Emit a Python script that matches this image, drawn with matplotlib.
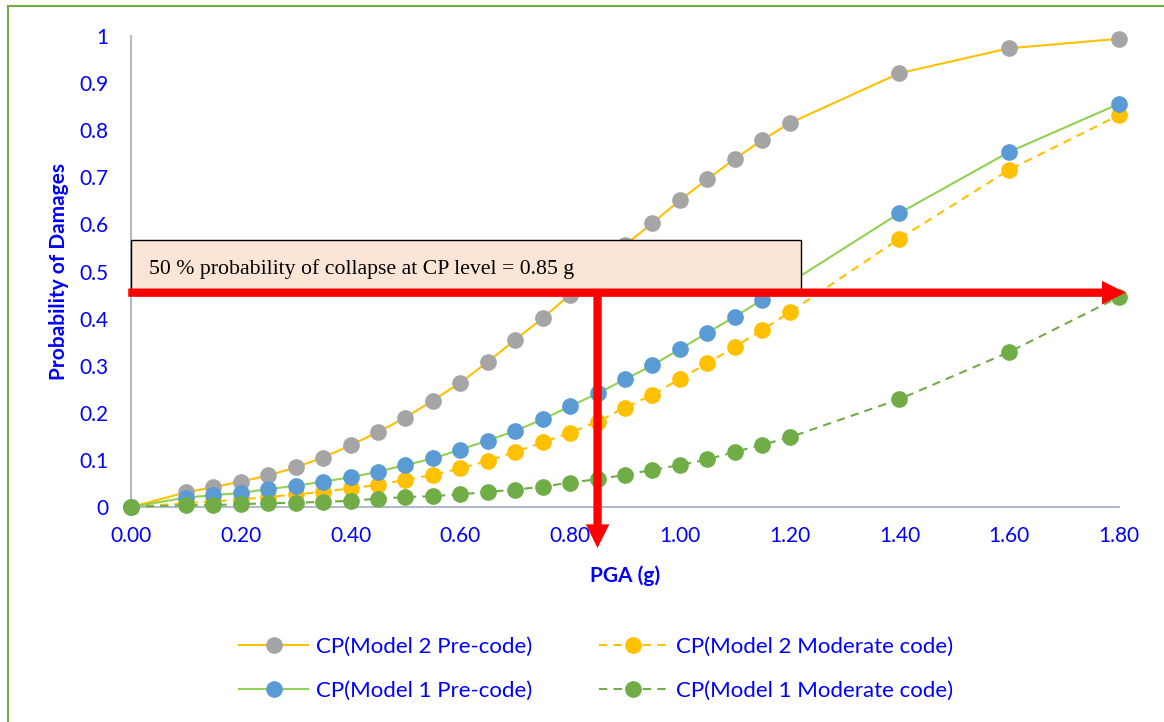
import matplotlib
matplotlib.use("Agg")
import matplotlib.pyplot as plt
from matplotlib.patches import Rectangle
from matplotlib.lines import Line2D

# data
pga = [0, 0.1, 0.15, 0.2, 0.25, 0.3, 0.35, 0.4, 0.45, 0.5, 0.55, 0.6, 0.65,
       0.7, 0.75, 0.8, 0.85, 0.9, 0.95, 1.0, 1.05, 1.1, 1.15, 1.2, 1.4, 1.6, 1.8]

m2_pre = [0, 0.031, 0.042, 0.054, 0.067, 0.084, 0.105, 0.131, 0.159, 0.190,
          0.226, 0.264, 0.308, 0.355, 0.401, 0.451, 0.505, 0.556, 0.603, 0.651,
          0.696, 0.739, 0.779, 0.815, 0.921, 0.974, 0.994]
m2_mod = [0, 0.008, 0.012, 0.016, 0.021, 0.027, 0.032, 0.040, 0.047, 0.058,
          0.068, 0.082, 0.098, 0.117, 0.137, 0.158, 0.181, 0.211, 0.238, 0.272,
          0.305, 0.340, 0.376, 0.413, 0.570, 0.716, 0.832]
m1_pre = [0, 0.020, 0.025, 0.030, 0.038, 0.045, 0.054, 0.063, 0.075, 0.089,
          0.103, 0.122, 0.141, 0.162, 0.186, 0.214, 0.241, 0.271, 0.301, 0.335,
          0.370, 0.404, 0.440, 0.476, 0.624, 0.754, 0.856]
m1_mod = [0, 0.004, 0.004, 0.006, 0.008, 0.009, 0.011, 0.013, 0.018, 0.021,
          0.023, 0.027, 0.032, 0.037, 0.043, 0.052, 0.059, 0.068, 0.079, 0.089,
          0.101, 0.117, 0.132, 0.148, 0.229, 0.329, 0.446]

labels = ["CP(Model 2 Pre-code)", "CP(Model 2 Moderate code)",
          "CP(Model 1 Pre-code)", "CP(Model 1 Moderate code)"]

xticks = [0, 0.2, 0.4, 0.6, 0.8, 1.0, 1.2, 1.4, 1.6, 1.8]
yticks = [0, 0.1, 0.2, 0.3, 0.4, 0.5, 0.6, 0.7, 0.8, 0.9, 1.0]
ytick_labels = ["0", "0.1", "0.2", "0.3", "0.4", "0.5", "0.6", "0.7", "0.8", "0.9", "1"]

collapse_pga = 0.85
collapse_prob = 0.455
note = "50 % probability of collapse at CP level = 0.85 g"

plt.rcParams['font.family'] = ['Lato', 'DejaVu Sans']
blue = '#0000FF'

fig = plt.figure(figsize=(11.64, 7.22), dpi=100)
ax = fig.add_axes([131 / 1164, 1 - 507 / 722, (1119 - 131) / 1164, (507 - 36) / 722])

# series
ms = 11
common = dict(lw=1.5, marker='o', ms=ms, zorder=2, clip_on=False)
h1, = ax.plot(pga, m2_pre, color='#FFC000', mfc='#A5A5A5', mec='#A5A5A5',
              label=labels[0], **common)
h2, = ax.plot(pga, m2_mod, color='#FFC000', ls=(0, (4, 3)), mfc='#FFC000', mec='#FFC000',
              label=labels[1], **common)
h3, = ax.plot(pga, m1_pre, color='#92D050', mfc='#5B9BD5', mec='#5B9BD5',
              label=labels[2], **common)
h4, = ax.plot(pga, m1_mod, color='#70AD47', ls=(0, (4, 3)), mfc='#70AD47', mec='#70AD47',
              label=labels[3], **common)

ax.set_xlim(0, 1.8)
ax.set_ylim(0, 1)
ax.set_xticks(xticks)
ax.set_xticklabels(["{:.2f}".format(t) for t in xticks])
ax.set_yticks(yticks)
ax.set_yticklabels(ytick_labels)
ax.tick_params(length=0, labelsize=15, labelcolor=blue)
ax.tick_params(axis='y', pad=16)
ax.tick_params(axis='x', pad=14)

for s in ['top', 'right']:
    ax.spines[s].set_visible(False)
for s in ['left', 'bottom']:
    ax.spines[s].set_color('#B0BCCC')
    ax.spines[s].set_linewidth(1.5)
    ax.spines[s].set_zorder(1)

ax.set_xlabel("PGA (g)", fontsize=15, fontweight='bold', color=blue, labelpad=14)
ax.set_ylabel("Probability of Damages", fontsize=15, fontweight='bold', color=blue, labelpad=8)

# annotation box
ax.add_patch(Rectangle((0, 0.461), 1.221, 0.106, facecolor='#FBE5D6', edgecolor='black',
                       lw=1.0, zorder=5, clip_on=False))
ax.text(0.033, 0.505, note, fontsize=15.7, family=['Liberation Serif', 'DejaVu Serif'],
        va='center', ha='left', zorder=6)

# red arrows
style = "simple,head_length=17,head_width=17,tail_width=6"
ax.annotate('', xy=(1.812, collapse_prob), xytext=(-0.005, collapse_prob),
            arrowprops=dict(arrowstyle=style, mutation_scale=1, color='#FF0000',
                            shrinkA=0, shrinkB=0, lw=0), zorder=7, annotation_clip=False)
ax.annotate('', xy=(collapse_pga, -0.087), xytext=(collapse_pga, collapse_prob + 0.008),
            arrowprops=dict(arrowstyle=style, mutation_scale=1, color='#FF0000',
                            shrinkA=0, shrinkB=0, lw=0), zorder=7, annotation_clip=False)

# legend
fig.legend([h1, h3, h2, h4], [labels[0], labels[2], labels[1], labels[3]], ncol=2,
           loc='center', bbox_to_anchor=(596 / 1164, 1 - 669 / 722), frameon=False,
           fontsize=16, labelcolor=blue, handlelength=3.1, handletextpad=0.35,
           columnspacing=3.0, labelspacing=1.1)

# green frame (left and top only visible)
fig.add_artist(Line2D([8 / 1164, 8 / 1164], [0, 1 - 6 / 722], transform=fig.transFigure,
                      color='#70AD47', lw=1.5))
fig.add_artist(Line2D([8 / 1164, 1], [1 - 6 / 722, 1 - 6 / 722], transform=fig.transFigure,
                      color='#70AD47', lw=1.5))

fig.savefig("out.png", dpi=100)
